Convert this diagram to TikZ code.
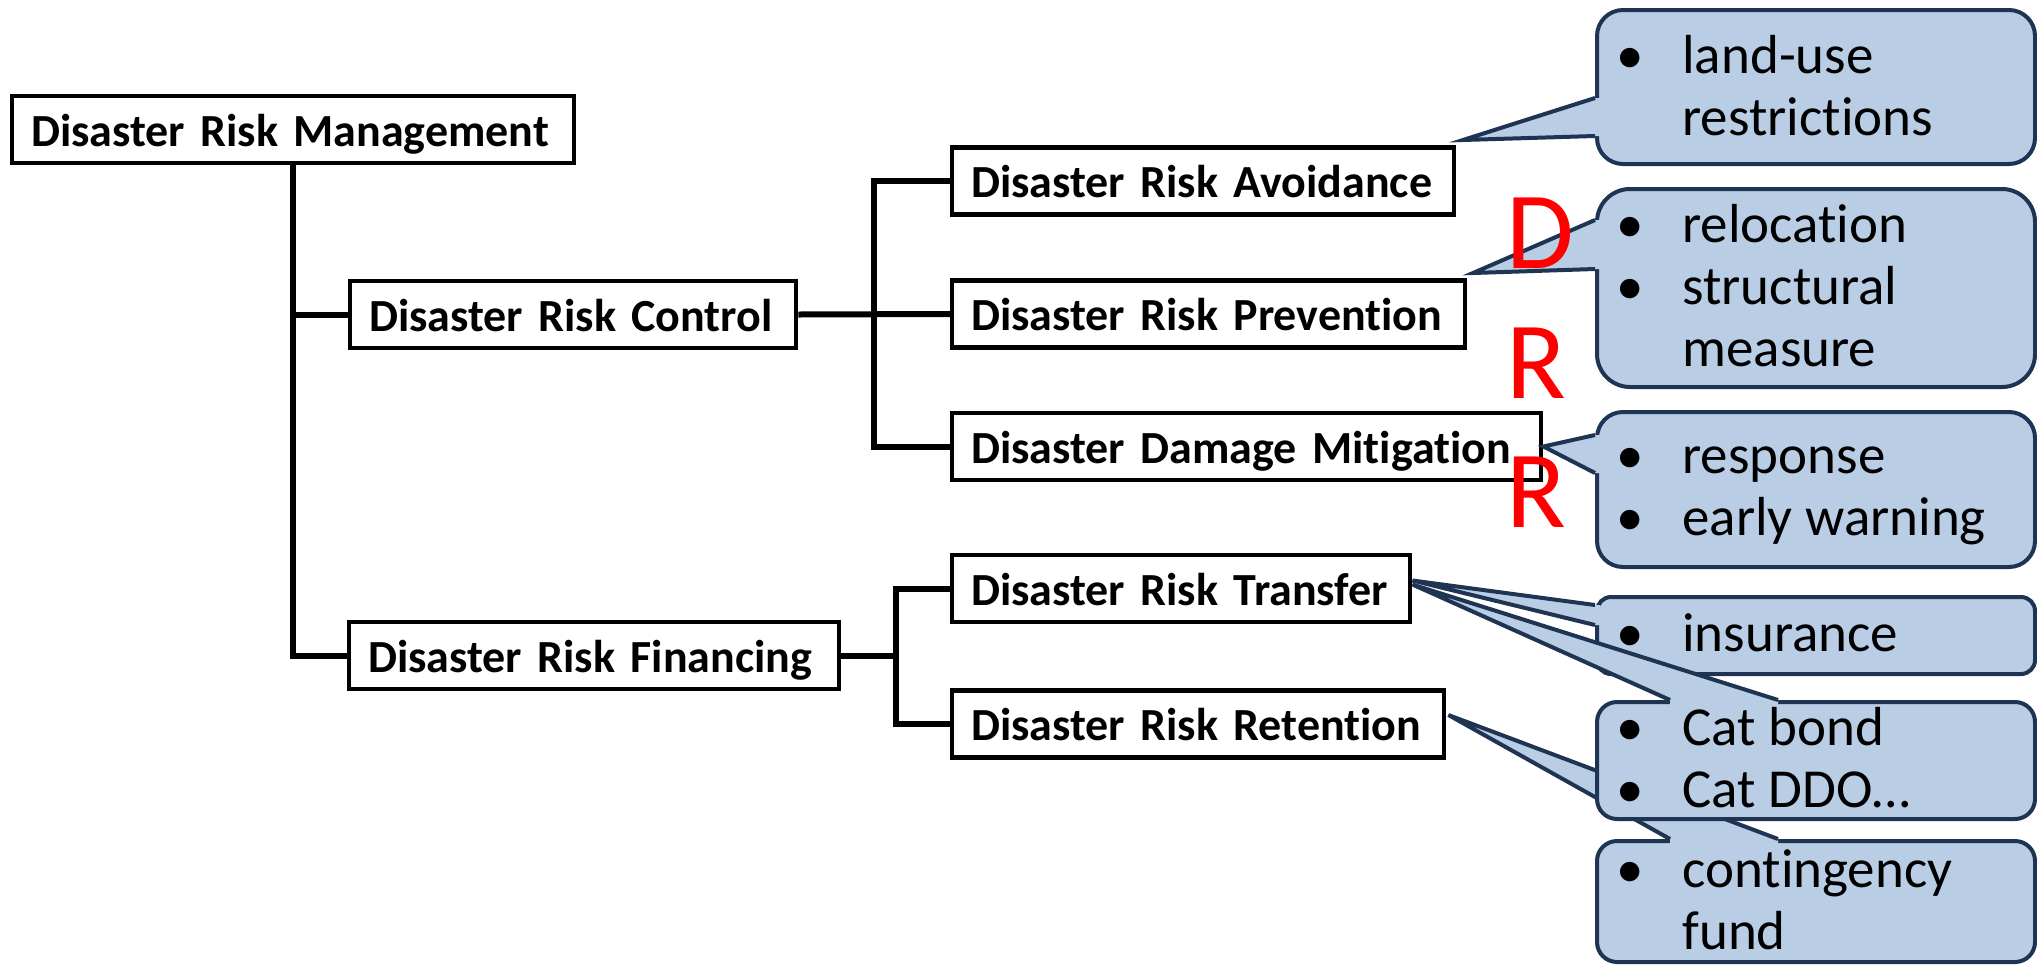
\documentclass[tikz,border=0pt]{standalone}
\usepackage{fontspec}
\setmainfont{Carlito}[Ligatures=NoCommon]
\usetikzlibrary{calc}
\definecolor{bubblefill}{RGB}{185,205,229}
\definecolor{bubbleline}{RGB}{31,52,82}
\newcommand{\bul}{\makebox[33pt][l]{\textbullet}}
\newcommand{\hang}{\hspace*{33pt}}
\tikzset{
    tree box/.style={
        draw, line width=2.2pt, fill=white,
        font=\fontsize{23}{27}\selectfont\bfseries,
        inner xsep=9.5pt, inner ysep=0pt,
        text height=20pt, text depth=3.5pt, minimum height=33.5pt,
        align=left, text width=#1, anchor=west
    },
    tree line/.style={line width=3pt},
    bubble/.style={
        draw=bubbleline, fill=bubblefill, line width=2pt,
        rounded corners=#1, anchor=north west, inner sep=0pt
    },
    bubble edge/.style={draw=bubbleline, line width=2pt, line join=miter},
    bubble text/.style={anchor=base west, inner sep=0pt, font=\fontsize{27.5}{31}\selectfont},
    drr letter/.style={anchor=base west, inner sep=0pt, text=red, font=\fontsize{55}{55}\selectfont},
}

\begin{document}
\begin{tikzpicture}[x=0.5pt, y=-0.5pt]
\path[fill=white, use as bounding box] (0,0) rectangle (2037,964);

\node[tree box=262pt] (drm) at (10,129.5) {\mbox{Disaster Risk Management}};
\node[tree box=204pt] (drc) at (348,314.5) {\mbox{Disaster Risk Control}};
\node[tree box=226pt] (drf) at (347,655.5) {\mbox{Disaster Risk Financing}};
\node[tree box=232pt] (dra) at (950,181) {\mbox{Disaster Risk Avoidance}};
\node[tree box=237.5pt] (drp) at (950,314) {\mbox{Disaster Risk Prevention}};
\node[tree box=275.5pt] (ddm) at (950,446.5) {\mbox{Disaster Damage Mitigation}};
\node[tree box=210pt] (drt) at (950,588.5) {\mbox{Disaster Risk Transfer}};
\node[tree box=227pt] (drr) at (950,724) {\mbox{Disaster Risk Retention}};

\coordinate (cb) at ($(drc.east)!.5!(drp.west)$);
\coordinate (fb) at ($(drf.east)!.5!(drt.west |- drf.east)$);
\draw[tree line] (drm.south) |- (drf.west);
\draw[tree line] (drm.south |- drc.west) -- (drc.west);
\draw[tree line] (drc.east) -- (drp.west);
\draw[tree line] (dra.west) -| (cb) |- (ddm.west);
\draw[tree line] (drf.east) -- (fb);
\draw[tree line] (drt.west) -| (fb) |- (drr.west);

\node[bubble=13pt, minimum width=219pt, minimum height=77pt] (c1) at (1595,8) {};
\coordinate (tip1) at (1463,140);
\fill[bubblefill] (tip1) -- ($(c1.north west)+(0,90)$) -- ($(c1.north west)+(5,90)$)
    -- ($(c1.north west)+(5,128)$) -- ($(c1.north west)+(0,128)$) -- cycle;
\draw[bubble edge] ($(c1.north west)+(0,90)$) -- (tip1) -- ($(c1.north west)+(0,128)$);
\node[bubble text] (c1t) at (1616,73) {\parbox[t]{200pt}{\bul land-use\\\hang restrictions}};

\node[bubble=16.5pt, minimum width=219pt, minimum height=99pt] (c2) at (1595,187) {};
\coordinate (tip2) at (1473,273);
\fill[bubblefill] (tip2) -- ($(c2.north west)+(0,33)$) -- ($(c2.north west)+(5,33)$)
    -- ($(c2.north west)+(5,82)$) -- ($(c2.north west)+(0,82)$) -- cycle;
\draw[bubble edge] ($(c2.north west)+(0,33)$) -- (tip2) -- ($(c2.north west)+(0,82)$);
\node[bubble text] (c2t) at (1616,242) {\parbox[t]{200pt}{\bul relocation\\\bul structural\\\hang measure}};

\node[bubble=13pt, minimum width=219pt, minimum height=77.5pt] (c3) at (1595,410) {};
\fill[bubblefill] (ddm.east) -- ($(c3.north west)+(0,25)$) -- ($(c3.north west)+(5,25)$)
    -- ($(c3.north west)+(5,63)$) -- ($(c3.north west)+(0,63)$) -- cycle;
\draw[bubble edge] ($(c3.north west)+(0,25)$) -- (ddm.east) -- ($(c3.north west)+(0,63)$);
\node[bubble text] (c3t) at (1616,473) {\parbox[t]{200pt}{\bul response\\\bul early warning}};

\node[bubble=7pt, minimum width=219pt, minimum height=38.5pt] (c4) at (1595,595) {};
\coordinate (tip4) at ($(drt.east)+(0,-8)$);
\fill[bubblefill] (tip4) -- ($(c4.north west)+(0,10)$) -- ($(c4.north west)+(5,10)$)
    -- ($(c4.north west)+(5,30)$) -- ($(c4.north west)+(0,30)$) -- cycle;
\draw[bubble edge] ($(c4.north west)+(0,10)$) -- (tip4) -- ($(c4.north west)+(0,30)$);
\node[bubble text] (c4t) at (1616,651) {\parbox[t]{200pt}{\bul insurance}};

\node[bubble=10pt, minimum width=219pt, minimum height=60.5pt] (c6) at (1595,839) {};
\coordinate (tip6) at ($(drr.east)+(2,-9)$);
\fill[bubblefill] (tip6) -- ($(c6.north west)+(75,0)$) -- ($(c6.north west)+(75,5)$)
    -- ($(c6.north west)+(183,5)$) -- ($(c6.north west)+(183,0)$) -- cycle;
\draw[bubble edge] ($(c6.north west)+(75,0)$) -- (tip6) -- ($(c6.north west)+(183,0)$);
\node[bubble text] (c6t) at (1616,887) {\parbox[t]{200pt}{\bul contingency\\\hang fund}};

\node[bubble=10pt, minimum width=219pt, minimum height=58.5pt] (c5) at (1595,700) {};
\coordinate (tip5) at ($(drt.east)+(0,-4)$);
\fill[bubblefill] (tip5) -- ($(c5.north west)+(75,0)$) -- ($(c5.north west)+(75,5)$)
    -- ($(c5.north west)+(183,5)$) -- ($(c5.north west)+(183,0)$) -- cycle;
\draw[bubble edge] ($(c5.north west)+(75,0)$) -- (tip5) -- ($(c5.north west)+(183,0)$);
\node[bubble text] (c5t) at (1616,745) {\parbox[t]{200pt}{\bul Cat bond\\\bul Cat DDO\ldots}};

\node[drr letter] (ld) at (1506,268) {D};
\node[drr letter] (lr) at (1506,398) {R};
\node[drr letter] (lrr) at (1506,527) {R};
\end{tikzpicture}
\end{document}
